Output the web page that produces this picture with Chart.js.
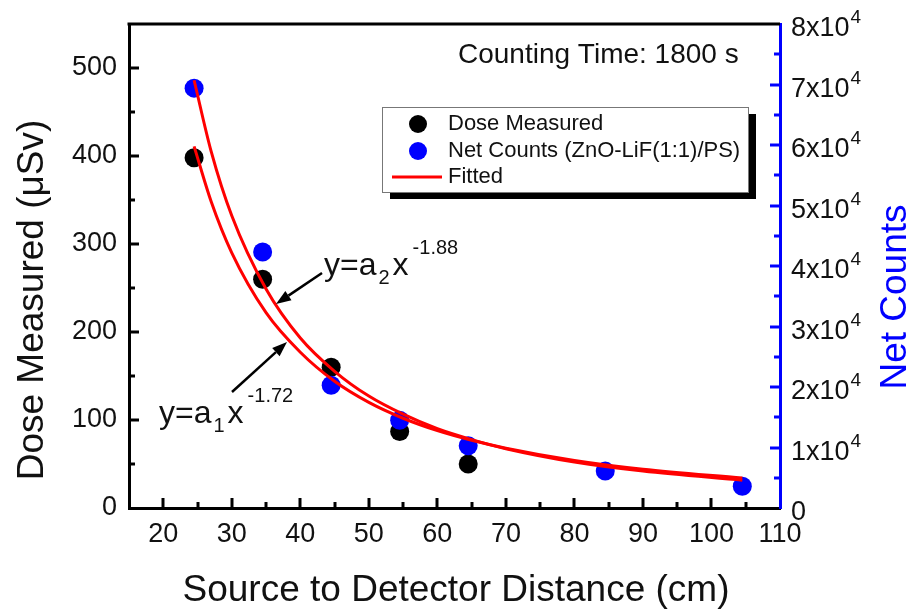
<!DOCTYPE html>
<html>
<head>
<meta charset="utf-8">
<script src="https://cdn.jsdelivr.net/npm/chart.js@4/dist/chart.umd.min.js"></script>
<style>
  html, body { margin: 0; padding: 0; background: #ffffff; }
  #wrap { width: 909px; height: 612px; }
</style>
</head>
<body>
<div id="wrap"><canvas id="c" width="909" height="612"></canvas></div>
<script>
// ---- data ----
const distances = [24.5, 34.5, 44.5, 54.5, 64.5, 84.5, 104.5];
const doseMeasured = [398, 260, 160, 87, 50];
const netCounts = [69400, 42300, 20300, 14500, 10300, 6100, 3600];

const fitDistances = [24.5, 27, 30, 35, 40, 45, 50, 55, 60, 65, 70, 80, 90, 104.5];
const doseFitted = [411, 348, 290, 222, 177, 144, 120, 102, 88, 77, 68, 54, 44, 34];
const countsFitted = [70700, 58900, 48300, 36200, 28100, 22600, 18500, 15500, 13100, 11300, 9800, 7600, 6100, 4600];

const xTicks = [20, 30, 40, 50, 60, 70, 80, 90, 100, 110];
const xMinorTicks = [25, 35, 45, 55, 65, 75, 85, 95, 105];
const doseTicks = [0, 100, 200, 300, 400, 500];
const doseMinorTicks = [50, 150, 250, 350, 450];
const countTicks = [0, 10000, 20000, 30000, 40000, 50000, 60000, 70000, 80000];
const countTickLabels = ['0', '1x10^4', '2x10^4', '3x10^4', '4x10^4', '5x10^4', '6x10^4', '7x10^4', '8x10^4'];
const countMinorTicks = [5000, 15000, 25000, 35000, 45000, 55000, 65000, 75000];

const FONT = "'Liberation Sans', Arial, sans-serif";
const BLUE = '#0000ff';
const RED = '#ff0000';
const TXT = '#111111';

function pts(xs, ys) { return ys.map((y, i) => ({ x: xs[i], y: y })); }

const overlay = {
  id: 'overlay',
  afterDraw(chart) {
    const ctx = chart.ctx;
    const ca = chart.chartArea;
    const sx = chart.scales.x, sy = chart.scales.y, sy2 = chart.scales.y2;
    ctx.save();
    // top frame line
    ctx.strokeStyle = '#000'; ctx.lineWidth = 3;
    ctx.beginPath(); ctx.moveTo(ca.left - 1.5, ca.top); ctx.lineTo(ca.right, ca.top); ctx.stroke();

    // inward ticks
    function tickV(scale, vals, len, x0, dir, color) {
      ctx.strokeStyle = color; ctx.lineWidth = 3;
      vals.forEach(v => {
        const y = Math.round(scale.getPixelForValue(v));
        ctx.beginPath(); ctx.moveTo(x0, y); ctx.lineTo(x0 + dir * len, y); ctx.stroke();
      });
    }
    tickV(sy, doseTicks.filter(v => v > 0), 10, ca.left, 1, '#000');
    tickV(sy, doseMinorTicks, 6, ca.left, 1, '#000');
    tickV(sy2, countTicks.filter(v => v > 0 && v < 80000), 10, ca.right, -1, BLUE);
    tickV(sy2, countMinorTicks, 6, ca.right, -1, BLUE);
    ctx.strokeStyle = '#000';
    xTicks.filter(v => v < 110).forEach(v => {
      const x = Math.round(sx.getPixelForValue(v));
      ctx.beginPath(); ctx.moveTo(x, ca.bottom); ctx.lineTo(x, ca.bottom - 10); ctx.stroke();
    });
    xMinorTicks.forEach(v => {
      const x = Math.round(sx.getPixelForValue(v));
      ctx.beginPath(); ctx.moveTo(x, ca.bottom); ctx.lineTo(x, ca.bottom - 6); ctx.stroke();
    });

    // right axis labels with superscripts
    ctx.fillStyle = TXT; ctx.textAlign = 'left'; ctx.textBaseline = 'alphabetic';
    countTicks.forEach((v, i) => {
      const y = sy2.getPixelForValue(v);
      const parts = countTickLabels[i].split('^');
      const xl = ca.right + 11;
      ctx.font = '27px ' + FONT;
      ctx.fillText(parts[0], xl, y + 12);
      if (parts[1]) {
        const w = ctx.measureText(parts[0]).width;
        ctx.font = '19px ' + FONT;
        ctx.fillText(parts[1], xl + w + 1, y - 1);
      }
    });

    // axis titles
    ctx.fillStyle = TXT;
    ctx.font = '37px ' + FONT;
    ctx.textAlign = 'center';
    ctx.fillText('Source to Detector Distance (cm)', 456, 601);
    ctx.save();
    ctx.translate(43, 300); ctx.rotate(-Math.PI / 2);
    ctx.fillText('Dose Measured (\u03bcSv)', 0, 0);
    ctx.restore();
    ctx.save();
    ctx.fillStyle = BLUE;
    ctx.translate(906, 297); ctx.rotate(-Math.PI / 2);
    ctx.fillText('Net Counts', 0, 0);
    ctx.restore();

    // Counting time
    ctx.fillStyle = TXT; ctx.textAlign = 'left';
    ctx.font = '28px ' + FONT;
    ctx.fillText('Counting Time: 1800 s', 458, 63);

    // legend box with shadow
    const lx = 382, ly = 107, lw = 366, lh = 85;
    ctx.fillStyle = '#000';
    ctx.fillRect(lx + 8, ly + 7, lw, lh);
    ctx.fillStyle = '#fff';
    ctx.fillRect(lx, ly, lw, lh);
    ctx.strokeStyle = '#777'; ctx.lineWidth = 1;
    ctx.strokeRect(lx + 0.5, ly + 0.5, lw, lh);
    ctx.font = '22px ' + FONT; ctx.textBaseline = 'middle';
    ctx.fillStyle = '#000';
    ctx.beginPath(); ctx.arc(418, 124, 9, 0, Math.PI * 2); ctx.fill();
    ctx.fillStyle = BLUE;
    ctx.beginPath(); ctx.arc(418, 151, 9, 0, Math.PI * 2); ctx.fill();
    ctx.strokeStyle = RED; ctx.lineWidth = 3;
    ctx.beginPath(); ctx.moveTo(392, 177); ctx.lineTo(442, 177); ctx.stroke();
    ctx.fillStyle = TXT;
    ctx.fillText('Dose Measured', 448, 124);
    ctx.fillText('Net Counts (ZnO-LiF(1:1)/PS)', 448, 151);
    ctx.fillText('Fitted', 448, 177);

    // equations
    function eq(x0, b, sub, sup) {
      ctx.textBaseline = 'alphabetic'; ctx.fillStyle = TXT;
      let x = x0;
      ctx.font = '32px ' + FONT;
      ctx.fillText('y=a', x, b); x += ctx.measureText('y=a').width + 2;
      ctx.font = '20px ' + FONT;
      ctx.fillText(sub, x, b + 9); x += ctx.measureText(sub).width + 3;
      ctx.font = '32px ' + FONT;
      ctx.fillText('x', x, b); x += ctx.measureText('x').width + 4;
      ctx.font = '20px ' + FONT;
      ctx.fillText(sup, x, b - 21);
    }
    eq(324, 275, '2', '-1.88');
    eq(159, 423, '1', '-1.72');

    // arrows
    function arrow(x1, y1, x2, y2) {
      const ang = Math.atan2(y2 - y1, x2 - x1);
      const hl = 15, hw = 5.5;
      const bx = x2 - hl * Math.cos(ang), by = y2 - hl * Math.sin(ang);
      ctx.strokeStyle = '#000'; ctx.lineWidth = 2.5;
      ctx.beginPath(); ctx.moveTo(x1, y1); ctx.lineTo(bx, by); ctx.stroke();
      ctx.fillStyle = '#000';
      ctx.beginPath();
      ctx.moveTo(x2, y2);
      ctx.lineTo(bx + hw * Math.sin(ang), by - hw * Math.cos(ang));
      ctx.lineTo(bx - hw * Math.sin(ang), by + hw * Math.cos(ang));
      ctx.closePath(); ctx.fill();
    }
    arrow(322, 273, 276, 304);
    arrow(232, 392, 287, 342);
    ctx.restore();
  }
};

function fixWidth(w) {
  return function (scale) {
    scale.width = w;
    scale.paddingTop = 0; scale.paddingBottom = 0;
    scale.paddingLeft = 0; scale.paddingRight = 0;
  };
}

new Chart(document.getElementById('c'), {
  type: 'scatter',
  data: {
    datasets: [
      { label: 'Dose Measured', data: pts(distances, doseMeasured), yAxisID: 'y',
        backgroundColor: '#000', borderColor: '#000', pointRadius: 9.5, pointBorderWidth: 0, order: 3 },
      { label: 'Net Counts (ZnO-LiF(1:1)/PS)', data: pts(distances, netCounts), yAxisID: 'y2',
        backgroundColor: BLUE, borderColor: BLUE, pointRadius: 9.5, pointBorderWidth: 0, order: 2 },
      { label: 'Fitted', data: pts(fitDistances, doseFitted), yAxisID: 'y', showLine: true,
        borderColor: RED, borderWidth: 3, pointRadius: 0, cubicInterpolationMode: 'monotone', order: 1 },
      { label: 'Fitted counts', data: pts(fitDistances, countsFitted), yAxisID: 'y2', showLine: true,
        borderColor: RED, borderWidth: 3, pointRadius: 0, cubicInterpolationMode: 'monotone', order: 0 }
    ]
  },
  options: {
    responsive: false,
    animation: false,
    devicePixelRatio: 1,
    layout: { padding: { top: 24, left: 0, right: 0, bottom: 0 } },
    plugins: { legend: { display: false }, tooltip: { enabled: false } },
    scales: {
      x: {
        type: 'linear', position: 'bottom', min: 15, max: 110,
        afterBuildTicks: s => { s.ticks = xTicks.map(v => ({ value: v })); },
        afterFit: s => { s.height = 104; s.paddingLeft = 0; s.paddingRight = 0; },
        grid: { display: false, drawTicks: false },
        border: { display: true, color: '#000', width: 3 },
        ticks: { color: TXT, font: { family: FONT, size: 27 }, padding: 10, maxRotation: 0, autoSkip: false }
      },
      y: {
        type: 'linear', position: 'left', min: 0, max: 550,
        afterBuildTicks: s => { s.ticks = doseTicks.map(v => ({ value: v })); },
        afterFit: fixWidth(129),
        grid: { display: false, drawTicks: false },
        border: { display: true, color: '#000', width: 3 },
        ticks: { color: TXT, font: { family: FONT, size: 27 }, padding: 12, autoSkip: false }
      },
      y2: {
        type: 'linear', position: 'right', min: 0, max: 80000,
        afterBuildTicks: s => { s.ticks = countTicks.map(v => ({ value: v })); },
        afterFit: fixWidth(129),
        grid: { display: false, drawTicks: false },
        border: { display: true, color: BLUE, width: 3 },
        ticks: { display: false }
      }
    }
  },
  plugins: [overlay]
});
</script>
</body>
</html>
